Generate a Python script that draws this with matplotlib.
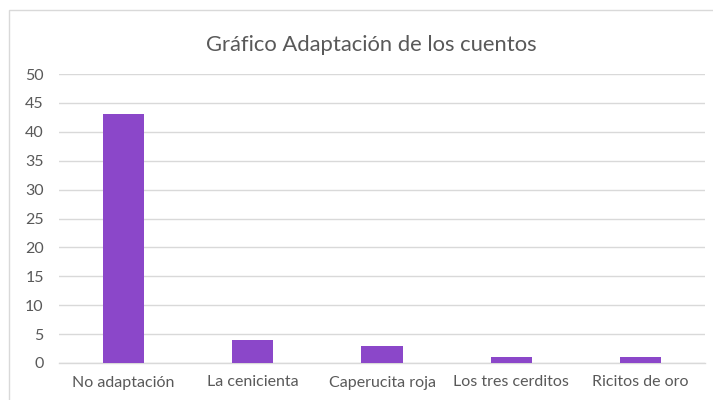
import matplotlib
matplotlib.use("Agg")
import matplotlib.pyplot as plt
from matplotlib.patches import Rectangle

categories = ["No adaptación", "La cenicienta", "Caperucita roja", "Los tres cerditos", "Ricitos de oro"]
values = [43, 4, 3, 1, 1]
yticks = [0, 5, 10, 15, 20, 25, 30, 35, 40, 45, 50]
title = "Gráfico Adaptación de los cuentos"

plt.rcParams['font.family'] = ['Lato', 'DejaVu Sans']
W, H = 713, 400
fig = plt.figure(figsize=(W/100, H/100), dpi=100)
fig.patch.set_facecolor('white')

# chart border (cropped at right/bottom)
fig.patches.append(Rectangle((9/W, -0.1), 1.2, 1 - 10/H + 0.1, transform=fig.transFigure,
                             fill=False, edgecolor='#D9D9D9', linewidth=1.0))

ax = fig.add_axes([59/W, 1 - 363/H, (705-59)/W, (363-74)/H])
x = range(len(categories))
ax.bar(x, values, width=0.32, color='#8B47C9', zorder=3)
ax.set_xlim(-0.5, len(categories) - 0.5)
ax.set_ylim(0, 50)
ax.set_yticks(yticks)
ax.set_xticks(list(x))
ax.set_xticklabels(categories)
ax.grid(axis='y', color='#D9D9D9', linewidth=1.0, zorder=0)
for s in ['top', 'right', 'left']:
    ax.spines[s].set_visible(False)
ax.spines['bottom'].set_color('#D9D9D9')
ax.spines['bottom'].set_linewidth(1.0)
ax.tick_params(axis='both', length=0, labelcolor='#595959', labelsize=11.5)
ax.tick_params(axis='y', pad=11)
ax.tick_params(axis='x', pad=9)

fig.text(371/W, 1 - 45/H, title, ha='center', va='center', fontsize=15.8, color='#595959')

fig.savefig("out.png", dpi=100)
